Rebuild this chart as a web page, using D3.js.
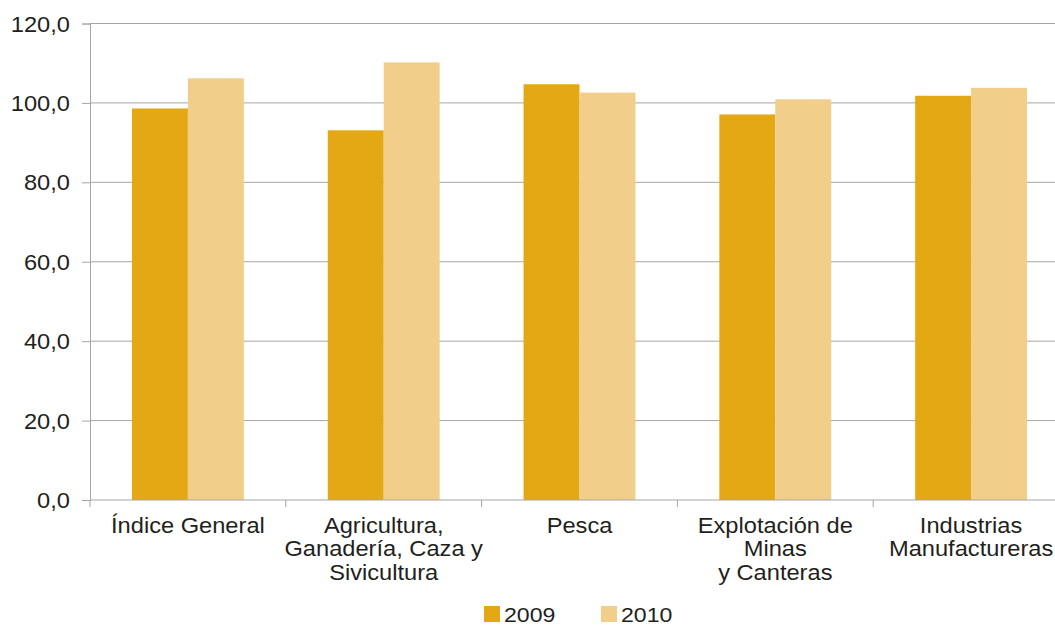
<!DOCTYPE html>
<html>
<head>
<meta charset="utf-8">
<script src="https://cdn.jsdelivr.net/npm/d3@7"></script>
<style>
  body { margin: 0; background: #fff; }
  svg { display: block; font-family: "Liberation Sans", Arial, sans-serif; }
</style>
</head>
<body>
<div id="graph"></div>
<script>
// data
var categories = ["Índice General", "Agricultura,\nGanadería, Caza y\nSivicultura", "Pesca", "Explotación de\nMinas\ny Canteras", "Industrias\nManufactureras"];
var series = ["2009", "2010"];
var values2009 = [98.6, 93.1, 104.7, 97.1, 101.8];
var values2010 = [106.2, 110.2, 102.6, 100.9, 103.8];
var yTicks = [0, 20, 40, 60, 80, 100, 120];
var colors = ["#e3a814", "#f2ce8b"];

var W = 1055, H = 626;
var margin = {left: 90, top: 23.5, right: -14, bottom: 126};
var w = W - margin.left - margin.right, h = H - margin.top - margin.bottom;
var stretch = "scale(1.1,1)"; // the original text is a bit wider than Arial

var svg = d3.select("#graph").append("svg")
    .attr("width", W).attr("height", H);
var g = svg.append("g")
    .attr("transform", "translate(" + margin.left + "," + margin.top + ")");

var x0 = d3.scaleBand().domain(d3.range(categories.length)).range([0, w]).padding(0);
var x1 = d3.scaleBand().domain(series).range([0, x0.bandwidth()]).paddingInner(0).paddingOuter(0.75);
var y = d3.scaleLinear().domain([0, 120]).range([h, 0]);

// grid lines
g.append("g").selectAll("line")
    .data(yTicks.slice(1))
    .enter().append("line")
    .attr("x1", 0).attr("x2", W - margin.left)
    .attr("y1", function(d){ return y(d); }).attr("y2", function(d){ return y(d); })
    .attr("stroke", "#a6a6a6").attr("stroke-width", 1);

// y axis
var yAxis = g.append("g")
    .call(d3.axisLeft(y).tickValues(yTicks).tickSize(8).tickPadding(10.2)
        .tickFormat(function(d){ return d3.format(".1f")(d).replace(".", ","); }));
yAxis.select(".domain").attr("stroke", "#a6a6a6");
yAxis.selectAll(".tick line").attr("stroke", "#a6a6a6");
yAxis.selectAll("text").attr("fill", "#231f20").style("font-size", "21.5px")
    .attr("dy", "0.35em").attr("transform", stretch);

// bars
var rows = categories.map(function(c, i){ return [values2009[i], values2010[i]]; });
var groups = g.append("g").selectAll("g")
    .data(rows).enter().append("g")
    .attr("transform", function(d, i){ return "translate(" + x0(i) + ",0)"; });
groups.selectAll("rect")
    .data(function(d){ return d.map(function(v, j){ return {s: series[j], v: v}; }); })
    .enter().append("rect")
    .attr("x", function(d){ return x1(d.s); })
    .attr("width", x1.bandwidth())
    .attr("y", function(d){ return y(d.v); })
    .attr("height", function(d){ return h - y(d.v); })
    .attr("fill", function(d, j){ return colors[j]; });

// x axis
var xAxis = g.append("g").attr("transform", "translate(0," + h + ")");
xAxis.append("line").attr("x1", 0).attr("x2", W - margin.left)
    .attr("stroke", "#a6a6a6");
xAxis.selectAll(".xt")
    .data(d3.range(categories.length + 1))
    .enter().append("line")
    .attr("x1", function(i){ return i * x0.step(); })
    .attr("x2", function(i){ return i * x0.step(); })
    .attr("y1", 0).attr("y2", 7)
    .attr("stroke", "#a6a6a6");
var labels = xAxis.selectAll(".lbl")
    .data(categories).enter().append("text")
    .attr("text-anchor", "middle")
    .attr("fill", "#231f20")
    .style("font-size", "21.5px")
    .attr("transform", function(d, i){ return "translate(" + (x0(i) + x0.bandwidth() / 2) + ",33) " + stretch; });
labels.selectAll("tspan")
    .data(function(d){ return d.split("\n"); })
    .enter().append("tspan")
    .attr("x", 0)
    .attr("y", function(d, k){ return k * 23.5; })
    .text(function(d){ return d; });

// legend
var legend = svg.append("g").attr("transform", "translate(484,606)");
var li = legend.selectAll("g").data(series).enter().append("g")
    .attr("transform", function(d, i){ return "translate(" + (i * 117) + ",0)"; });
li.append("rect").attr("width", 16).attr("height", 16)
    .attr("fill", function(d, i){ return colors[i]; });
li.append("text").attr("transform", "translate(20,15.5) " + stretch)
    .attr("fill", "#231f20").style("font-size", "21px")
    .text(function(d){ return d; });
</script>
</body>
</html>
